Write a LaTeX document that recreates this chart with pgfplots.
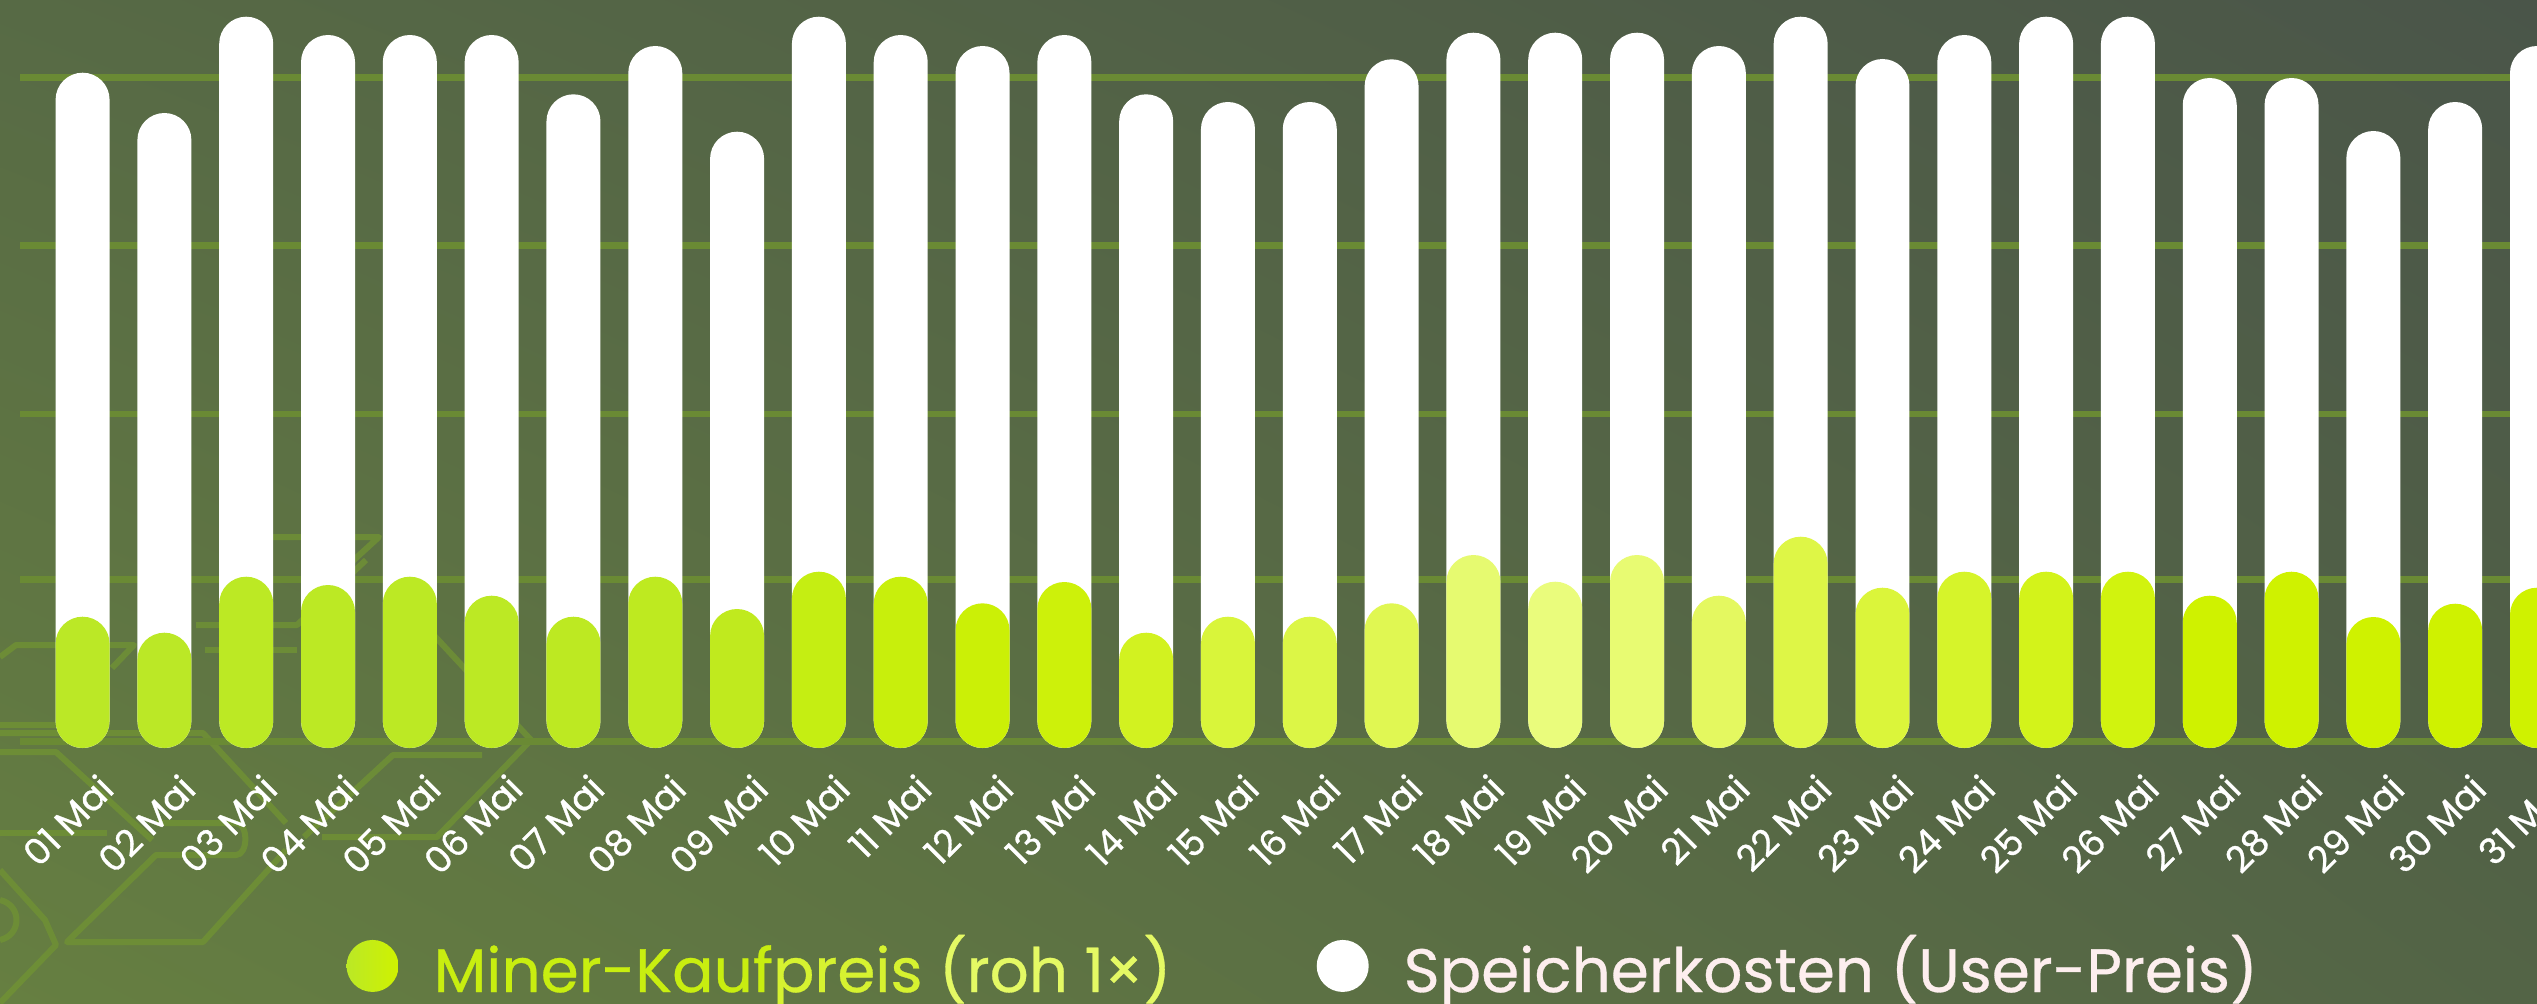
\documentclass[border=0pt]{standalone}
\usepackage{fontspec}
\setmainfont{Poppins}
\newfontfamily\tickfont{Poppins}[FakeBold=0.8]
\newfontfamily\legfont{Poppins}[FakeBold=0.5]
\usepackage{pgfplots}
\usepackage{pgfplotstable}
\pgfplotsset{compat=1.18}
\usetikzlibrary{shadings}

\definecolor{bgUL}{HTML}{576A45}
\definecolor{bgUR}{HTML}{4A5549}
\definecolor{bgLL}{HTML}{667F41}
\definecolor{bgLR}{HTML}{536446}
\definecolor{gridc}{HTML}{6A8A34}
\definecolor{hexc}{RGB}{112,146,52}
\definecolor{gc0}{HTML}{BBE826}
\definecolor{gc1}{HTML}{BBE826}
\definecolor{gc2}{HTML}{BCE924}
\definecolor{gc3}{HTML}{BCE924}
\definecolor{gc4}{HTML}{BCE924}
\definecolor{gc5}{HTML}{BCE924}
\definecolor{gc6}{HTML}{BDE922}
\definecolor{gc7}{HTML}{BEEA20}
\definecolor{gc8}{HTML}{C0EA1E}
\definecolor{gc9}{HTML}{C5EE12}
\definecolor{gc10}{HTML}{C8EF0C}
\definecolor{gc11}{HTML}{CBF006}
\definecolor{gc12}{HTML}{CDF10A}
\definecolor{gc13}{HTML}{D2F220}
\definecolor{gc14}{HTML}{D9F53A}
\definecolor{gc15}{HTML}{DCF646}
\definecolor{gc16}{HTML}{E0F752}
\definecolor{gc17}{HTML}{E6FA70}
\definecolor{gc18}{HTML}{EAFC7C}
\definecolor{gc19}{HTML}{E8FB72}
\definecolor{gc20}{HTML}{E4F860}
\definecolor{gc21}{HTML}{DEF646}
\definecolor{gc22}{HTML}{DBF53A}
\definecolor{gc23}{HTML}{D6F42A}
\definecolor{gc24}{HTML}{D3F31A}
\definecolor{gc25}{HTML}{D1F30E}
\definecolor{gc26}{HTML}{CFF200}
\definecolor{gc27}{HTML}{CFF200}
\definecolor{gc28}{HTML}{CFF200}
\definecolor{gc29}{HTML}{CFF200}
\definecolor{gc30}{HTML}{CFF200}
\definecolor{legA}{HTML}{C8EE10}
\definecolor{legB}{HTML}{D6F230}
\definecolor{legC}{HTML}{E4F964}
\definecolor{legW}{HTML}{FDEEEE}

% x = day index (0 = 01 Mai), w = Speicherkosten (User-Preis), g = Miner-Kaufpreis (roh 1x)
\pgfplotstableread{
x w g
0 675.3 131.3
1 635.0 115.3
2 731.3 171.3
3 713.0 163.0
4 713.0 171.3
5 713.0 152.3
6 653.7 131.3
7 702.0 171.3
8 616.3 139.0
9 731.3 176.3
10 713.0 171.3
11 702.0 144.7
12 713.0 166.0
13 653.7 115.3
14 646.0 131.3
15 646.0 131.3
16 688.7 144.7
17 715.3 193.0
18 715.3 166.3
19 715.3 193.0
20 702.0 152.3
21 731.3 211.3
22 689.0 160.3
23 713.0 176.3
24 731.3 176.3
25 731.3 176.3
26 670.0 152.3
27 670.0 176.3
28 617.0 131.0
29 646.0 144.3
30 702.0 160.3
}\data

\begin{document}
\begin{tikzpicture}
\path[use as bounding box] (0pt,0pt) rectangle (761.1pt,300.9pt);
\shade[upper left=bgUL, upper right=bgUR, lower left=bgLL, lower right=bgLR] (0pt,0pt) rectangle (761.1pt,300.9pt);
\begin{scope}[shift={(0pt,300.9pt)}, x=0.3pt, y=-0.3pt, draw=hexc, line width=1.8pt, opacity=0.8, line join=round]
\draw (0,657)--(16,645)--(134,645)--(112,668);
\draw (0,725)--(58,725);
\draw (0,733)--(203,733)--(286,823);
\draw (0,752)--(56,752)--(152,840);
\draw (0,833)--(107,833);
\draw (156,823)--(236,823) to[out=0,in=0] (236,855)--(156,855)--(67,942)--(203,942)--(286,850);
\draw (304,837)--(393,755)--(482,755);
\draw (429,630)--(531,740)--(437,837)--(322,837);
\draw (0,870)--(45,920)--(56,945)--(0,1003);
\draw (0,900) .. controls (22,905) and (22,935) .. (0,940);
\draw (196,625)--(297,625)--(366,560);
\draw (205,650)--(297,650);
\draw (273,537)--(379,537)--(310,600);
\end{scope}
\begin{axis}[
  at={(6pt,74.1pt)}, anchor=south west,
  scale only axis, width=755.1pt, height=226.8pt,
  xmin=-0.765, xmax=30, ymin=-8, ymax=748,
  axis line style={draw=none},
  major tick length=0pt,
  ytick={6.3,168.7,334,502.3,670.7}, yticklabels={},
  ymajorgrids, grid style={line width=2pt, color=gridc},
  xtick={0,...,30},
  xticklabels={01 Mai,02 Mai,03 Mai,04 Mai,05 Mai,06 Mai,07 Mai,08 Mai,09 Mai,10 Mai,11 Mai,12 Mai,13 Mai,14 Mai,15 Mai,16 Mai,17 Mai,18 Mai,19 Mai,20 Mai,21 Mai,22 Mai,23 Mai,24 Mai,25 Mai,26 Mai,27 Mai,28 Mai,29 Mai,30 Mai,31 Mai},
  xticklabel style={font=\tickfont\fontsize{10.9}{12}\selectfont, text=white, inner sep=0pt, xshift=7.2pt, yshift=-7.6pt, rotate=45, anchor=east},
  legend columns=2,
  legend style={draw=none, fill=none, at={(0.1255,-0.2777)}, anchor=west,
    font=\legfont\fontsize{18.4}{21}\selectfont, nodes={inner sep=0pt},
    /tikz/every odd column/.append style={column sep=10.5pt},
    /tikz/every even column/.append style={column sep=43.6pt}},
]
\addplot[ybar, bar width=0.66, bar shift=0pt, fill=white, draw=none, rounded corners=8.1pt, forget plot] table[x=x, y=w] {\data};
\pgfplotsinvokeforeach{0,...,30}{
  \addplot[ybar, bar width=0.66, bar shift=0pt, fill=gc#1, draw=none, rounded corners=8.1pt, forget plot,
    restrict expr to domain={\thisrow{x}}{#1:#1}] table[x=x, y=g] {\data};
}
\addlegendimage{legend image code/.code={\shade[draw=none, left color=gc0, right color=gc26] (7.8pt,0pt) circle (7.8pt);}}
\addlegendentry{\textcolor{legA}{Miner-Kauf}\textcolor{legB}{preis} \textcolor{legC}{(roh 1×)}}
\addlegendimage{legend image code/.code={\fill[white, draw=none] (7.8pt,0pt) circle (7.8pt);}}
\addlegendentry{\textcolor{legW}{Speicherkosten (User-Preis)}}
\end{axis}
\end{tikzpicture}
\end{document}
